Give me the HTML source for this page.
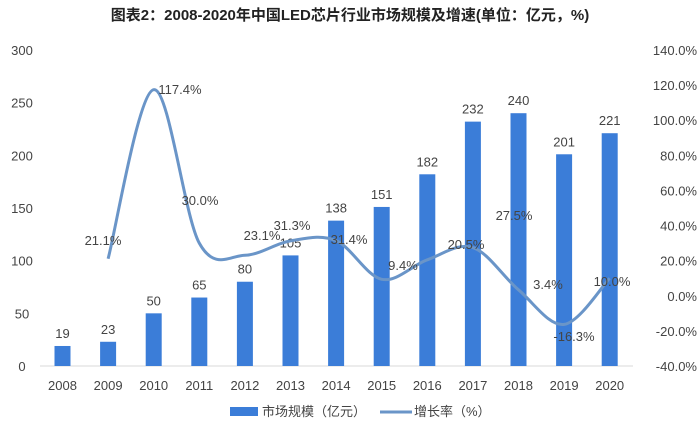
<!DOCTYPE html><html><head><meta charset="utf-8"><style>
body{margin:0;background:#fff;width:700px;height:432px;overflow:hidden}
text{font-family:"Liberation Sans","Noto Sans CJK SC",sans-serif;fill:#444}
</style></head><body>
<svg id="s" width="700" height="432" xmlns="http://www.w3.org/2000/svg">
<text x="350" y="20" text-anchor="middle" font-size="15" font-weight="bold" style="fill:#222">图表2：2008-2020年中国LED芯片行业市场规模及增速(单位：亿元，%)</text>
</svg>
<script>
var s=document.getElementById('s'),h='';
var x0=62.5,st=45.6;
function X(i){return x0+i*st}
function YL(v){return 366-v*316/300}
function YR(v){return 295.8-v*316/180}
for(var i=0;i<=6;i++){var v=i*50;h+='<text x="22" y="'+(YL(v)+5)+'" text-anchor="middle" font-size="13">'+v+'</text>';}
for(var v=-40;v<=140;v+=20){h+='<text x="697" y="'+(YR(v)+5)+'" text-anchor="end" font-size="13">'+v.toFixed(1)+'%</text>';}
h+='<line x1="40" y1="366" x2="633" y2="366" stroke="#d9d9d9"/>';
var b=[19,23,50,65,80,105,138,151,182,232,240,201,221];
for(var i=0;i<13;i++){var y=YL(b[i]);h+='<rect x="'+(X(i)-8)+'" y="'+y+'" width="16" height="'+(366-y)+'" fill="#3b7dd8"/>';
h+='<text x="'+X(i)+'" y="'+(y-8)+'" text-anchor="middle" font-size="13">'+b[i]+'</text>';
h+='<text x="'+X(i)+'" y="390" text-anchor="middle" font-size="13">'+(2008+i)+'</text>';}
var r=[21.1,117.4,30.0,23.1,31.3,31.4,9.4,20.5,27.5,3.4,-16.3,10.0];
var p=r.map(function(v,k){return [X(k+1),YR(v)]});
var d='M'+p[0][0]+','+p[0][1];
for(var i=0;i<p.length-1;i++){var a=p[i-1]||p[i],c=p[i],e=p[i+1],f=p[i+2]||e;
d+=' C'+(c[0]+(e[0]-a[0])/6)+','+(c[1]+(e[1]-a[1])/6)+' '+(e[0]-(f[0]-c[0])/6)+','+(e[1]-(f[1]-c[1])/6)+' '+e[0]+','+e[1];}
h+='<path d="'+d+'" fill="none" stroke="#6a95c8" stroke-width="3"/>';
var L=[[103,245],[180,94],[200,205],[262,240],[292,230],[349,244],[403,270],[466,249],[514,220],[548,289],[574,341],[612,286]];
for(var i=0;i<12;i++)h+='<text x="'+L[i][0]+'" y="'+L[i][1]+'" font-size="13" text-anchor="middle">'+r[i].toFixed(1)+'%</text>';
h+='<rect x="230" y="407" width="28" height="9" fill="#3b7dd8"/><text x="262" y="416" font-size="13">市场规模（亿元）</text>';
h+='<line x1="380" y1="412" x2="412" y2="412" stroke="#6a95c8" stroke-width="3"/><text x="414" y="416" font-size="13">增长率（%）</text>';
s.innerHTML+=h;
</script></body></html>
